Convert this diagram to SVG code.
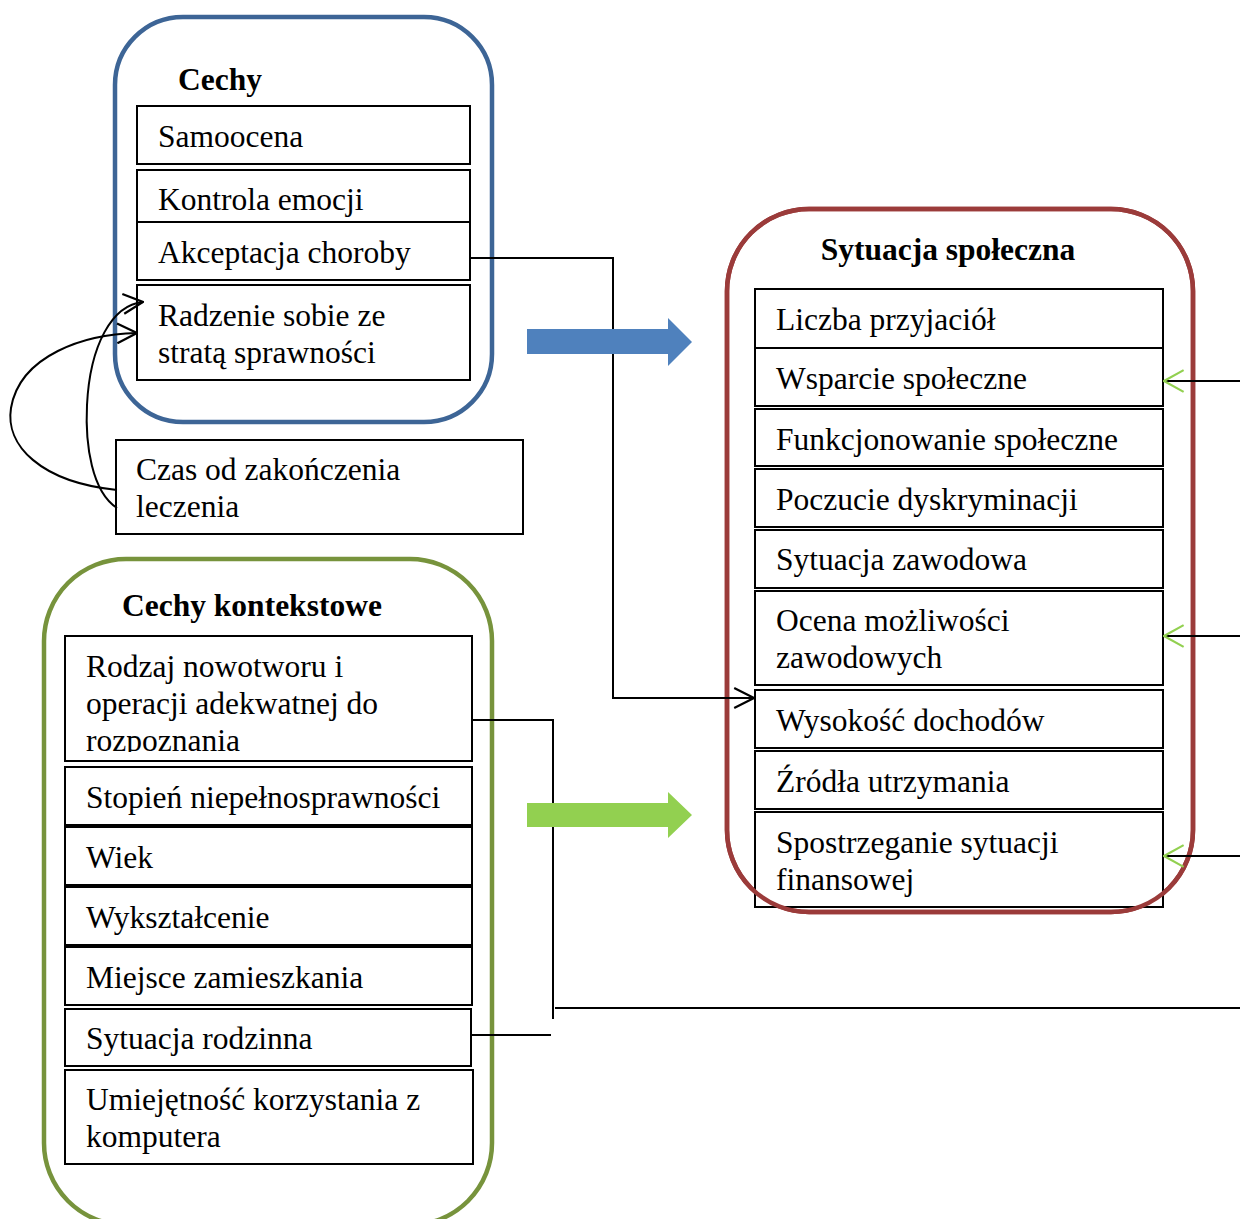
<svg xmlns="http://www.w3.org/2000/svg" width="1240" height="1219" viewBox="0 0 1240 1219">
<style>
text{font-family:"Liberation Serif","Times New Roman",serif;font-size:31.5px;fill:#000}
.b{font-weight:bold}
.box{fill:#fff;stroke:#000;stroke-width:2}
.ln{fill:none;stroke:#000;stroke-width:2}
</style>
<defs>
<marker id="ah" markerUnits="userSpaceOnUse" markerWidth="22" markerHeight="22" viewBox="0 0 20 20" refX="19" refY="10" orient="auto"><path d="M1,1 L19,10 L1,19" fill="none" stroke="#000" stroke-width="2"/></marker>
<marker id="gh" markerUnits="userSpaceOnUse" markerWidth="22" markerHeight="24" viewBox="0 0 20 22" refX="19" refY="11" orient="auto"><path d="M1,1 L19,11 L1,21" fill="none" stroke="#92D050" stroke-width="2"/></marker>
<clipPath id="c1"><rect x="65" y="636" width="407" height="116"/></clipPath>
</defs>
<rect width="1240" height="1219" fill="#fff"/>

<g id="cechy">
<rect x="115" y="17" width="377" height="405" rx="68" fill="none" stroke="#3D6596" stroke-width="4.5"/>
<text class="b" x="178" y="90">Cechy</text>
</g>
<g id="samoocena"><rect class="box" x="137" y="106" width="333" height="58"/><text x="158" y="147">Samoocena</text></g>
<g id="kontrola"><rect class="box" x="137" y="170" width="333" height="54"/><text x="158" y="210">Kontrola emocji</text></g>
<g id="akceptacja"><rect class="box" x="137" y="222" width="333" height="58"/><text x="158" y="263">Akceptacja choroby</text></g>
<g id="radzenie"><rect class="box" x="137" y="285" width="333" height="95"/><text x="158" y="326">Radzenie sobie ze</text><text x="158" y="363">stratą sprawności</text></g>
<g id="czas"><rect class="box" x="116" y="440" width="407" height="94"/><text x="136" y="480">Czas od zakończenia</text><text x="136" y="517">leczenia</text></g>

<g id="sytuacja">
<rect x="727" y="209" width="466" height="703" rx="82" fill="none" stroke="#9B3B3A" stroke-width="4.5"/>
<text class="b" x="948" y="260" text-anchor="middle">Sytuacja społeczna</text>
</g>
<g id="liczba"><rect class="box" x="755" y="289" width="408" height="59"/><text x="776" y="330">Liczba przyjaciół</text></g>
<g id="wsparcie"><rect class="box" x="755" y="348" width="408" height="58"/><text x="776" y="389">Wsparcie społeczne</text></g>
<g id="funkcjonowanie"><rect class="box" x="755" y="409" width="408" height="57"/><text x="776" y="450">Funkcjonowanie społeczne</text></g>
<g id="poczucie"><rect class="box" x="755" y="469" width="408" height="58"/><text x="776" y="510">Poczucie dyskryminacji</text></g>
<g id="zawodowa"><rect class="box" x="755" y="530" width="408" height="58"/><text x="776" y="570">Sytuacja zawodowa</text></g>
<g id="ocena"><rect class="box" x="755" y="591" width="408" height="94"/><text x="776" y="631">Ocena możliwości</text><text x="776" y="668">zawodowych</text></g>
<g id="wysokosc"><rect class="box" x="755" y="690" width="408" height="58"/><text x="776" y="731">Wysokość dochodów</text></g>
<g id="zrodla"><rect class="box" x="755" y="751" width="408" height="58"/><text x="776" y="792">Źródła utrzymania</text></g>
<g id="spostrzeganie"><rect class="box" x="755" y="812" width="408" height="95"/><text x="776" y="853">Spostrzeganie sytuacji</text><text x="776" y="890">finansowej</text></g>
<rect x="727" y="209" width="466" height="703" rx="82" fill="none" stroke="#9B3B3A" stroke-width="4.5"/>

<g id="kontekstowe">
<rect x="44" y="559" width="448" height="666" rx="82" fill="none" stroke="#77933C" stroke-width="4.5"/>
<text class="b" x="122" y="616">Cechy kontekstowe</text>
</g>
<g id="rodzaj"><rect class="box" x="65" y="636" width="407" height="125"/><g clip-path="url(#c1)"><text x="86" y="677">Rodzaj nowotworu i</text><text x="86" y="714">operacji adekwatnej do</text><text x="86" y="751">rozpoznania</text></g></g>
<g id="stopien"><rect class="box" x="65" y="767" width="407" height="58"/><text x="86" y="808">Stopień niepełnosprawności</text></g>
<g id="wiek"><rect class="box" x="65" y="827" width="407" height="58"/><text x="86" y="868">Wiek</text></g>
<g id="wyksztalcenie"><rect class="box" x="65" y="887" width="407" height="58"/><text x="86" y="928">Wykształcenie</text></g>
<g id="miejsce"><rect class="box" x="65" y="947" width="407" height="58"/><text x="86" y="988">Miejsce zamieszkania</text></g>
<g id="rodzinna"><rect class="box" x="65" y="1009" width="406" height="57"/><text x="86" y="1049">Sytuacja rodzinna</text></g>
<g id="umiejetnosc"><rect class="box" x="65" y="1070" width="408" height="94"/><text x="86" y="1110">Umiejętność korzystania z</text><text x="86" y="1147">komputera</text></g>

<g id="connectors">
<path class="ln" d="M117,490 C40,482 5,445 11,408 C20,355 85,334 137,333" marker-end="url(#ah)"/>
<path class="ln" d="M117,508 C92,492 85,445 87,405 C90,345 112,305 143,302" marker-end="url(#ah)"/>
<path class="ln" d="M470,258 H613 V698 H754" marker-end="url(#ah)"/>
<path class="ln" d="M472,720 H553 V1019"/>
<path class="ln" d="M555,1008 H1240"/>
<path class="ln" d="M471,1035 H551"/>
<path class="ln" d="M1240,381 H1164" marker-end="url(#gh)"/>
<path class="ln" d="M1240,636 H1164" marker-end="url(#gh)"/>
<path class="ln" d="M1240,856 H1164" marker-end="url(#gh)"/>
<path d="M527,329 H668 V318 L692,342 L668,366 V354 H527 Z" fill="#4F81BD"/>
<path d="M527,803 H668 V792 L692,815 L668,838 V827 H527 Z" fill="#92D050"/>
</g>
</svg>
